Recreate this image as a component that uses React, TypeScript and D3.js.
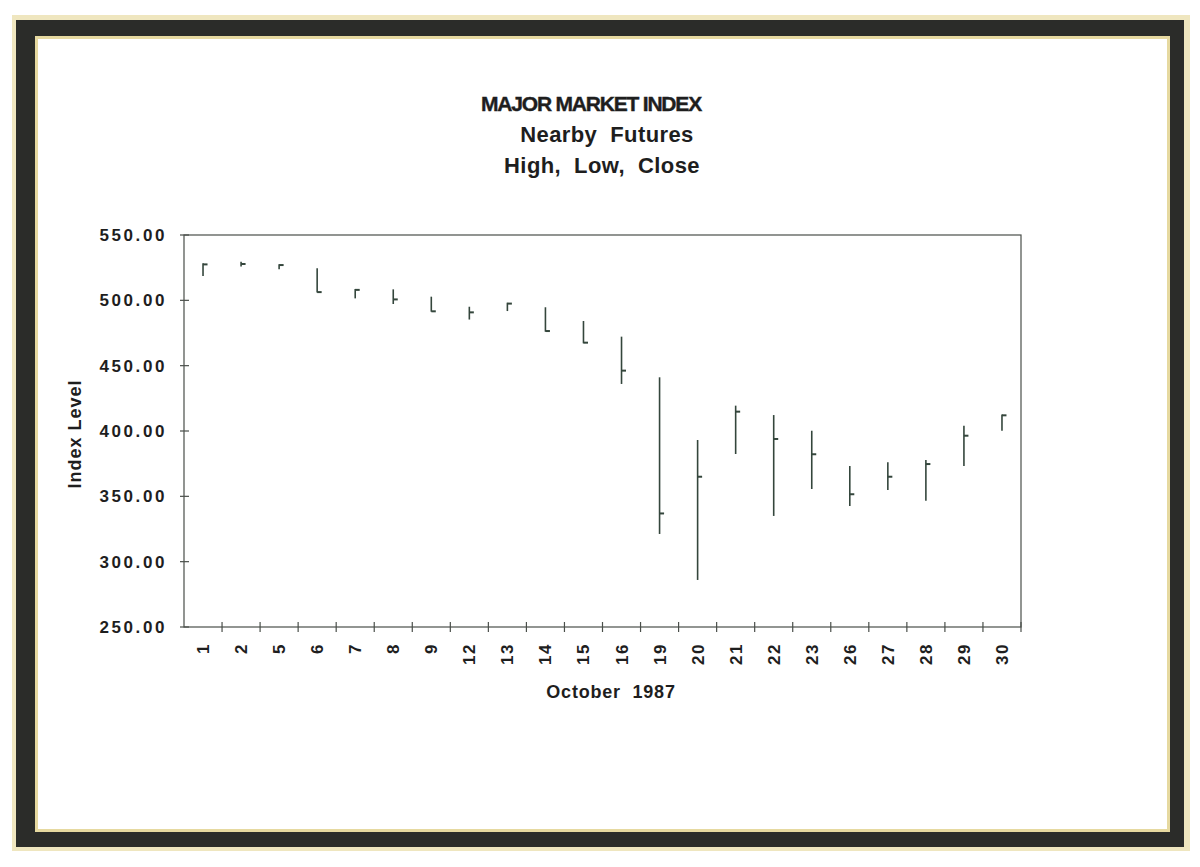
import React from "react";
import * as d3 from "d3";

const days = ["1","2","5","6","7","8","9","12","13","14","15","16","19","20","21","22","23","26","27","28","29","30"];
const highs = [528.3, 529.6, 527.6, 524.5, 508.7, 508.4, 502.8, 495.1, 498.2, 494.7, 484.2, 472.2, 441.1, 393.1, 419.4, 412.2, 400.2, 373.2, 376.0, 377.8, 404.0, 412.7];
const lows = [518.6, 525.8, 523.8, 505.9, 501.5, 497.2, 491.3, 485.3, 491.8, 476.0, 467.1, 436.0, 321.2, 286.0, 382.4, 335.0, 355.6, 342.6, 354.8, 346.7, 373.2, 400.2];
const closes = [527.5, 527.8, 527.0, 506.3, 508.0, 500.7, 491.6, 490.8, 497.5, 476.5, 467.6, 446.2, 336.9, 365.0, 414.8, 393.9, 382.2, 351.6, 365.0, 374.7, 396.4, 412.0];
const yTicks = [250, 300, 350, 400, 450, 500, 550];
const titleLines = ["MAJOR MARKET INDEX", "Nearby  Futures", "High,  Low,  Close"];
const titleX = [591, 607, 602];

export default function App() {
  const W = 1200, H = 867;
  const left = 184, right = 1021, top = 235, bottom = 627;
  const x = d3.scaleBand<string>().domain(days).range([left, right]).padding(0);
  const y = d3.scaleLinear().domain([250, 550]).range([bottom, top]);
  const font = "'Liberation Sans', Arial, Helvetica, sans-serif";
  const axisColor = "#4a4f4a";
  const barColor = "#34463c";
  const boundaries = days.map((d) => (x(d) as number) + x.bandwidth());

  return (
    <svg width={W} height={H} style={{ position: "absolute", left: 0, top: 0, background: "#ffffff" }}>
      {/* frame */}
      <rect x={12} y={15} width={1178} height={836} fill="#efe6bf" />
      <rect x={16} y={20} width={1168} height={827} fill="#2b2c29" />
      <rect x={35} y={36} width={1135} height={796} fill="#e6d9a0" />
      <rect x={38} y={39} width={1129} height={790} fill="#ffffff" />

      {/* title */}
      {titleLines.map((t, i) => (
        <text key={i} x={titleX[i]} y={111 + i * 31} textAnchor="middle" fontFamily={font} fontWeight="bold"
          fontSize={i === 0 ? 21 : 22} fill="#1e1e1e" stroke={i === 0 ? "#1e1e1e" : "none"} strokeWidth={0.4}
          letterSpacing={i === 0 ? -1.2 : 0.4} style={{ whiteSpace: "pre" }}>
          {t}
        </text>
      ))}

      {/* plot box */}
      <rect x={left} y={top} width={right - left} height={bottom - top} fill="none" stroke={axisColor} strokeWidth={1.2} />

      {/* y ticks */}
      {yTicks.map((v) => (
        <g key={v}>
          <line x1={left - 4} x2={left + 5} y1={y(v)} y2={y(v)} stroke={axisColor} strokeWidth={1.2} />
          <text x={167} y={y(v) + 6} textAnchor="end" fontFamily={font} fontWeight="bold" fontSize={17}
            letterSpacing={2.6} fill="#1e1e1e">
            {d3.format(".2f")(v)}
          </text>
        </g>
      ))}

      {/* x ticks */}
      {boundaries.map((bx, i) => (
        <line key={i} x1={bx} x2={bx} y1={bottom - 5} y2={bottom + 5} stroke={axisColor} strokeWidth={1.2} />
      ))}
      {days.map((d) => {
        const cx = (x(d) as number) + x.bandwidth() / 2;
        return (
          <text key={d} transform={`translate(${cx + 6},${643}) rotate(-90)`} textAnchor="end"
            fontFamily={font} fontWeight="bold" fontSize={17} letterSpacing={1.5} fill="#1e1e1e">
            {d}
          </text>
        );
      })}

      {/* HLC bars */}
      {days.map((d, i) => {
        const cx = (x(d) as number) + x.bandwidth() / 2;
        return (
          <g key={d}>
            <line x1={cx} x2={cx} y1={y(highs[i])} y2={y(lows[i])} stroke={barColor} strokeWidth={1.6} />
            <line x1={cx} x2={cx + 4.5} y1={y(closes[i])} y2={y(closes[i])} stroke={barColor} strokeWidth={2} />
          </g>
        );
      })}

      {/* axis titles */}
      <text transform={`translate(81,${434}) rotate(-90)`} textAnchor="middle" fontFamily={font} fontWeight="bold"
        fontSize={18} letterSpacing={1} fill="#1e1e1e">Index Level</text>
      <text x={611} y={698} textAnchor="middle" fontFamily={font} fontWeight="bold" fontSize={18} letterSpacing={0.8}
        fill="#1e1e1e" style={{ whiteSpace: "pre" }}>October  1987</text>
    </svg>
  );
}
